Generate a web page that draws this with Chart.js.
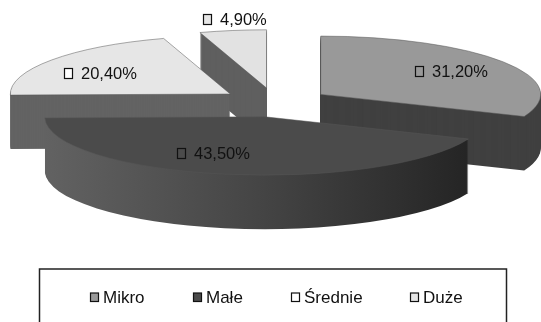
<!DOCTYPE html>
<html>
<head>
<meta charset="utf-8">
<style>
  html, body { margin: 0; padding: 0; background: #fff; overflow: hidden; }
  canvas { display: block; }
</style>
<script src="https://cdn.jsdelivr.net/npm/chart.js@4"></script>
</head>
<body>
<canvas id="pieChart" width="541" height="322"></canvas>
<script>
const categories = ['Mikro', 'Małe', 'Średnie', 'Duże'];
const shares = [31.2, 43.5, 20.4, 4.9];

// Colours of the slices: top face, legend key, side face
const topColors = ['#999999', '#4b4b4b', '#e6e6e6', '#e2e2e2'];
const keyColors = ['#999999', '#4b4b4b', '#ffffff', '#e6e6e6'];
const sideColors = ['#404040', null, '#636363', '#5f5f5f'];

// Fake 3D look of the pie
const pieX = 275;
const pieY = 102.5;
const squash = 0.265;
const explode = 55;
const depth = 54;
const drawOrder = [3, 2, 0, 1];

// Where the value labels sit (key left, text middle)
const labelX = [415, 177, 64, 203];
const labelY = [72, 154, 74, 20];

// Legend entries (key left, text left)
const legendKeyX = [90, 193, 291, 410];
const legendTextX = [103, 206, 304, 423];
const legendY = 298;

function drawArcAt(ctx, arc, d) {
  const mid = (arc.startAngle + arc.endAngle) / 2;
  ctx.save();
  ctx.translate(pieX, pieY + d);
  ctx.scale(1, squash);
  ctx.translate(Math.cos(mid) * explode - arc.x, Math.sin(mid) * explode - arc.y);
  arc.draw(ctx);
  ctx.restore();
}

function drawKey(ctx, x, y, w, h, color) {
  ctx.fillStyle = color;
  ctx.strokeStyle = '#111';
  ctx.lineWidth = 1.2;
  ctx.fillRect(x + 0.5, y, w, h);
  ctx.strokeRect(x + 0.5, y, w, h);
}

const pie3d = {
  id: 'pie3d',
  beforeDatasetsDraw(chart) {
    const ctx = chart.ctx;
    const arcs = chart.getDatasetMeta(0).data;
    drawOrder.forEach(i => {
      const arc = arcs[i];
      const topOptions = arc.options;
      let sideFill = sideColors[i];
      if (!sideFill) {
        sideFill = ctx.createLinearGradient(arc.x - arc.outerRadius, 0, arc.x + arc.outerRadius, 0);
        sideFill.addColorStop(0, '#626262');
        sideFill.addColorStop(0.5, '#444444');
        sideFill.addColorStop(1, '#222222');
      }
      arc.options = Object.assign({}, topOptions, { backgroundColor: sideFill, borderWidth: 0 });
      for (let d = depth; d >= 1; d--) {
        drawArcAt(ctx, arc, d);
      }
      arc.options = topOptions;
      drawArcAt(ctx, arc, 0);
    });
    return false;
  },
  afterDraw(chart) {
    const ctx = chart.ctx;
    ctx.save();
    ctx.textBaseline = 'middle';

    // value labels
    ctx.font = '16.5px "Liberation Sans", Arial, sans-serif';
    shares.forEach((v, i) => {
      drawKey(ctx, labelX[i], labelY[i] - 5.5, 8, 10, keyColors[i]);
      ctx.fillStyle = '#111';
      ctx.fillText(v.toFixed(2).replace('.', ',') + '%', labelX[i] + 17, labelY[i]);
    });

    // legend, its frame runs off the bottom of the picture
    ctx.strokeStyle = '#222';
    ctx.lineWidth = 1.5;
    ctx.strokeRect(39.5, 269, 467, 70);
    ctx.font = '17px "Liberation Sans", Arial, sans-serif';
    categories.forEach((c, i) => {
      drawKey(ctx, legendKeyX[i], legendY - 5, 8, 8.5, keyColors[i]);
      ctx.fillStyle = '#111';
      ctx.fillText(c, legendTextX[i], legendY);
    });
    ctx.restore();
  }
};

new Chart(document.getElementById('pieChart'), {
  type: 'pie',
  data: {
    labels: categories,
    datasets: [{
      data: shares,
      backgroundColor: topColors,
      borderColor: '#555555',
      borderWidth: 0.8,
      radius: 220
    }]
  },
  options: {
    responsive: false,
    animation: false,
    plugins: {
      tooltip: { enabled: false },
      legend: { display: false }
    }
  },
  plugins: [pie3d]
});
</script>
</body>
</html>
